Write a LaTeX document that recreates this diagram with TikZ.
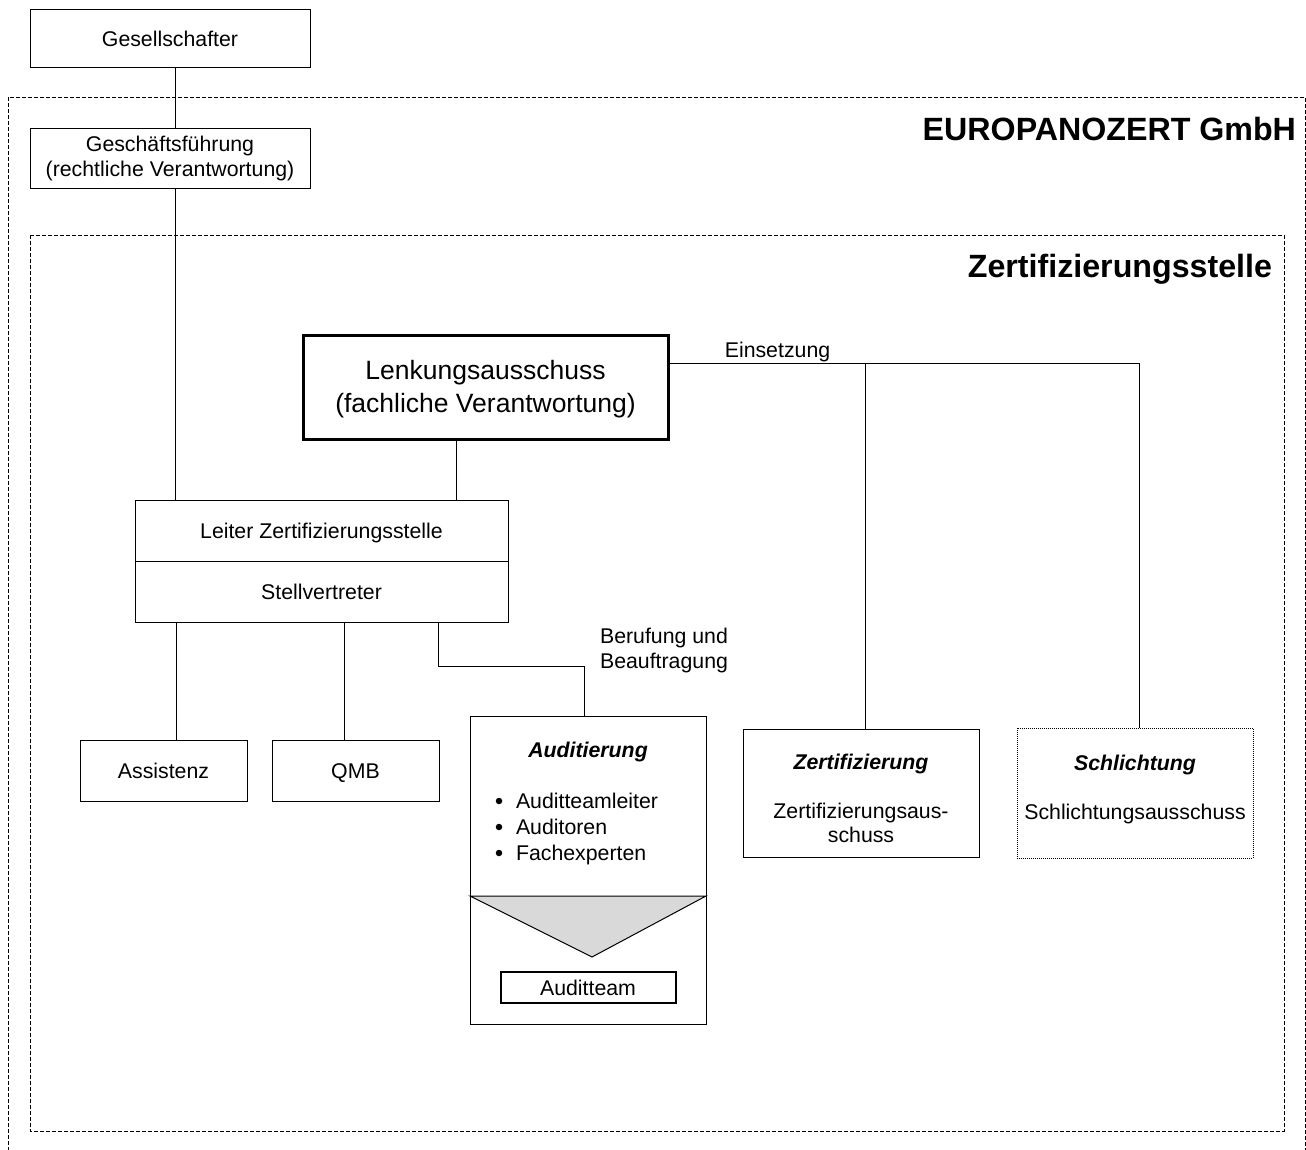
\documentclass[tikz,border=0pt]{standalone}
\usepackage{fontspec}
\setmainfont{Liberation Sans}
\newcommand{\fsN}{\fontsize{21.3pt}{25pt}\selectfont}
\newcommand{\fsL}{\fontsize{26.5pt}{33pt}\selectfont}
\newcommand{\fsT}{\fontsize{32.2pt}{38pt}\selectfont}
\begin{document}
\begin{tikzpicture}[x=1pt,y=-1pt,
  every node/.style={inner sep=0pt,outer sep=0pt,font=\fsN},
  box/.style={draw,line width=1pt,align=center},
  one/.style={text height=20.5pt,text depth=4pt},
  oneT/.style={text height=28.5pt,text depth=5.3pt},
  conn/.style={line width=1pt},
  frame/.style={line width=1pt,dash pattern=on 4pt off 2pt},
  bul/.style={circle,fill=black,minimum size=6.5pt},
  lbl/.style={align=center}]
\useasboundingbox (0,0) rectangle (1306,1149);
% frames
\draw[frame] (8,97) rectangle (1305,1170);
\draw[frame] (30,235) rectangle (1284,1131);
\node[anchor=east,font=\fsT\bfseries,oneT] (t1) at (1296,129) {EUROPANOZERT GmbH};
\node[anchor=east,font=\fsT\bfseries,oneT] (t2) at (1272,266) {Zertifizierungsstelle};
% boxes
\node[box,one,minimum width=280,minimum height=58,fill=white] (ges) at (170,38) {Gesellschafter};
\node[box,minimum width=280,minimum height=60,fill=white] (gf) at (170,158) {Geschäftsführung\\(rechtliche Verantwortung)};
\node[box,line width=3pt,minimum width=365,minimum height=104] (lenk) at (485.5,387) {};
\node[lbl,font=\fsL] (lenkt) at (485.5,389.5) {Lenkungsausschuss\\(fachliche Verantwortung)};
\node[box,one,minimum width=373,minimum height=61] (lz) at (321.5,530.5) {Leiter Zertifizierungsstelle};
\node[box,one,minimum width=373,minimum height=61] (sv) at (321.5,591.5) {Stellvertreter};
\node[box,one,minimum width=167,minimum height=61] (ass) at (163.5,770.5) {Assistenz};
\node[box,one,minimum width=167,minimum height=61] (qmb) at (355.5,770.5) {QMB};
\node[box,minimum width=236,minimum height=308] (aud) at (588,870) {};
\node[box,minimum width=236,minimum height=128] (zert) at (861,793) {};
\node[box,line width=0.8pt,dash pattern=on 1pt off 1pt,minimum width=236,minimum height=130] (schl) at (1135,793) {};
% Auditierung content
\draw[conn,fill=black!15] (aud.west |- 0,896) -- (aud.east |- 0,896) -- (592,957) -- cycle;
\node[font=\fsN\bfseries\itshape,one] (audt) at (588,749) {Auditierung};
\node[bul] (b1) at (499,801) {};
\node[bul] (b2) at (499,827) {};
\node[bul] (b3) at (499,853) {};
\node[anchor=west,one] (a1) at (516,800) {Auditteamleiter};
\node[anchor=west,one] (a2) at (516,826) {Auditoren};
\node[anchor=west,one] (a3) at (516,852) {Fachexperten};
\node[box,one,line width=2pt,minimum width=175,minimum height=31] (team) at (588,987) {Auditteam};
% Zertifizierung / Schlichtung content
\node[font=\fsN\bfseries\itshape,one] (zt1) at (861,761) {Zertifizierung};
\node[lbl,font=\fontsize{21.3pt}{24pt}\selectfont] (zt2) at (861,823) {Zertifizierungsaus-\\schuss};
\node[font=\fsN\bfseries\itshape,one] (st1) at (1135,762) {Schlichtung};
\node[one] (st2) at (1135,811) {Schlichtungsausschuss};
% connectors
\draw[conn] ([xshift=5pt]ges.south) -- ([xshift=5pt]gf.north);
\coordinate (gfs) at ([xshift=5pt]gf.south);
\draw[conn] (gfs) -- (gfs |- lz.north);
\coordinate (lks) at ([xshift=-29.5pt]lenk.south);
\draw[conn] (lks) -- (lks |- lz.north);
\coordinate (asn) at ([xshift=12.5pt]ass.north);
\draw[conn] (asn) -- (asn |- sv.south);
\coordinate (qmn) at ([xshift=-11.5pt]qmb.north);
\draw[conn] (qmn) -- (qmn |- sv.south);
\coordinate (svs) at ([xshift=116.5pt]sv.south);
\coordinate (adn) at ([xshift=-4pt]aud.north);
\draw[conn] (svs) -- ++(0pt,-44pt) -| (adn);
\coordinate (ein) at ([yshift=24pt]lenk.east);
\coordinate (shn) at ([xshift=4pt]schl.north);
\coordinate (ztn) at ([xshift=4pt]zert.north);
\draw[conn] (ein) -| (shn);
\draw[conn] (ztn) -- (ztn |- ein);
% labels
\node[one] (einl) at (777.5,349) {Einsetzung};
\node[lbl] (ber) at (664,650) {Berufung und\\Beauftragung};
\end{tikzpicture}
\end{document}
